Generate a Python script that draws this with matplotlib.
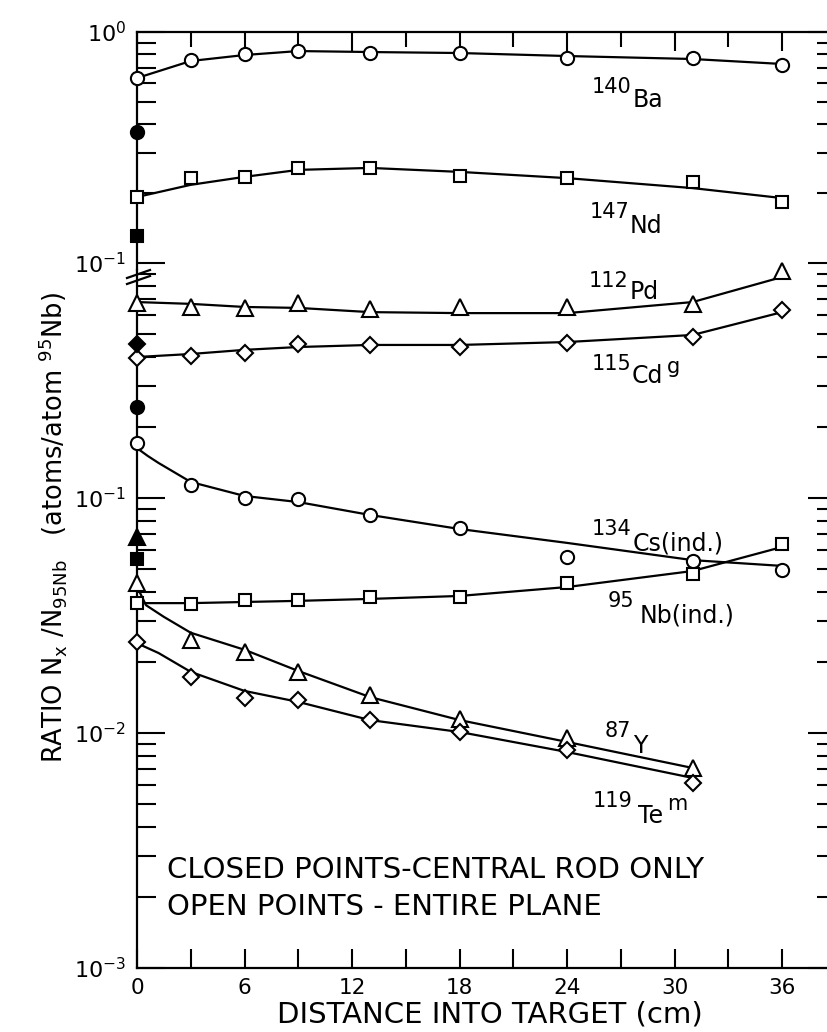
import matplotlib
matplotlib.use('Agg')
import matplotlib.pyplot as plt
from matplotlib.lines import Line2D
from matplotlib.ticker import MultipleLocator, NullFormatter, LogLocator

# measured points (distance into target, cm)
x_pts = [0, 3, 6, 9, 13, 18, 24, 31, 36]
x_pts_short = [0, 3, 6, 9, 13, 18, 24, 31]

# upper panel (10^-1 .. 10^0)
ba = [0.632, 0.756, 0.803, 0.827, 0.811, 0.811, 0.772, 0.772, 0.720]
nd = [0.193, 0.233, 0.236, 0.258, 0.258, 0.238, 0.233, 0.224, 0.184]
# lower panel
pd_ = [0.676, 0.650, 0.644, 0.676, 0.638, 0.650, 0.650, 0.670, 0.924]
cd = [0.394, 0.402, 0.414, 0.452, 0.448, 0.439, 0.457, 0.484, 0.631]
cs = [0.171, 0.1136, 0.100, 0.099, 0.0847, 0.0745, 0.0561, 0.054, 0.0494]
nb = [0.0357, 0.0354, 0.0367, 0.0367, 0.0379, 0.0379, 0.0435, 0.0475, 0.0637]
y87 = [0.0435, 0.0249, 0.0221, 0.0182, 0.0145, 0.01147, 0.00953, 0.0071]
te = [0.0244, 0.0173, 0.0141, 0.0138, 0.01135, 0.0101, 0.00847, 0.00612]

# closed points (central rod only), all at x = 0
ba_rod = 0.369
nd_rod = 0.131
cd_rod = 0.452
cs_rod = 0.244
y87_rod = 0.0683
nb_rod = 0.055

# hand-drawn curves
xc = [0, 3, 6, 9, 13, 18, 24, 31, 36]
ba_c = [0.632, 0.749, 0.795, 0.827, 0.819, 0.811, 0.787, 0.764, 0.727]
nd_c = [0.193, 0.218, 0.236, 0.253, 0.258, 0.248, 0.233, 0.211, 0.191]
pd_c = [0.682, 0.670, 0.650, 0.644, 0.618, 0.612, 0.612, 0.682, 0.872]
cd_c = [0.398, 0.410, 0.427, 0.439, 0.448, 0.448, 0.461, 0.494, 0.618]
nb_c = [0.0357, 0.0357, 0.0361, 0.0365, 0.0372, 0.0383, 0.0418, 0.0489, 0.0619]
xc_cs = [0, 0.6, 1.2, 3, 6, 9, 13, 18, 24, 31, 36]
cs_c = [0.163, 0.151, 0.141, 0.117, 0.102, 0.0961, 0.0847, 0.0738, 0.0644, 0.0544, 0.0514]
xc_y = [0, 0.5, 1.5, 3, 6, 9, 13, 18, 24, 31]
y87_c = [0.042, 0.0350, 0.0312, 0.0267, 0.0226, 0.01836, 0.01422, 0.01135, 0.00916, 0.0071]
xc_te = [0, 1.2, 3, 6, 9, 13, 18, 24, 31]
te_c = [0.0241, 0.0219, 0.0182, 0.0151, 0.01356, 0.01135, 0.0101, 0.0083, 0.00644]

W, H = 828, 1032
PT = 72 / 100  # points per pixel at dpi 100
def fx(px):
    return px / W
def fy(py):
    return 1 - py / H

fig = plt.figure(figsize=(W / 100, H / 100), dpi=100)

ax_top = fig.add_axes([fx(137), fy(270), 699 / W, (270 - 32) / H])
ax_bot = fig.add_axes([fx(137), fy(968), 699 / W, (968 - 270) / H])

ax_top.set_yscale('log')
ax_top.set_ylim(10 ** (-238 / 231), 1.0)
ax_bot.set_yscale('log')
ax_bot.set_ylim(1e-3, 10 ** (-1 + 228 / 235))

for ax in (ax_top, ax_bot):
    ax.set_xlim(0, 39)
    for s in ax.spines.values():
        s.set_linewidth(1.6)
    ax.xaxis.set_major_locator(MultipleLocator(6))
    ax.xaxis.set_minor_locator(MultipleLocator(3))
    ax.yaxis.set_major_locator(LogLocator(base=10))
    ax.yaxis.set_minor_locator(LogLocator(base=10, subs=range(2, 10)))
    ax.yaxis.set_minor_formatter(NullFormatter())
    ax.tick_params(axis='y', which='both', direction='in', left=True, right=True,
                   width=1.5, labelsize=16, pad=8)
    ax.tick_params(axis='y', which='major', length=28 * PT)
    ax.tick_params(axis='y', which='minor', length=19 * PT)
    ax.tick_params(axis='x', which='both', direction='in', width=1.5, length=19 * PT,
                   labelsize=15.5, pad=7)

ax_top.spines['bottom'].set_visible(False)
ax_bot.spines['top'].set_visible(False)
ax_top.tick_params(axis='x', which='both', bottom=False, top=True, labelbottom=False)
ax_top.tick_params(axis='x', which='minor', length=15 * PT)
ax_bot.tick_params(axis='x', which='both', bottom=True, top=False)

lw = 1.6
# curves
ax_top.plot(xc, ba_c, color='black', lw=lw, zorder=2)
ax_top.plot(xc, nd_c, color='black', lw=lw, zorder=2)
ax_bot.plot(xc, pd_c, color='black', lw=lw, zorder=2, clip_on=False)
ax_bot.plot(xc, cd_c, color='black', lw=lw, zorder=2)
ax_bot.plot(xc_cs, cs_c, color='black', lw=lw, zorder=2)
ax_bot.plot(xc, nb_c, color='black', lw=lw, zorder=2)
ax_bot.plot(xc_y, y87_c, color='black', lw=lw, zorder=2)
ax_bot.plot(xc_te, te_c, color='black', lw=lw, zorder=2)

def pts(ax, x, y, marker, ms, filled=False):
    ax.plot(x, y, ls='none', marker=marker, ms=ms, mfc='black' if filled else 'white',
            mec='black', mew=1.5, zorder=4, clip_on=False)

pts(ax_top, x_pts, ba, 'o', 9.5)
pts(ax_top, x_pts, nd, 's', 9)
pts(ax_bot, x_pts, pd_, '^', 11)
pts(ax_bot, x_pts, cd, 'D', 8.5)
pts(ax_bot, x_pts, cs, 'o', 9.5)
pts(ax_bot, x_pts, nb, 's', 9)
pts(ax_bot, x_pts_short, y87, '^', 11)
pts(ax_bot, x_pts_short, te, 'D', 8.5)

pts(ax_top, [0], [ba_rod], 'o', 9.5, True)
pts(ax_top, [0], [nd_rod], 's', 9, True)
pts(ax_bot, [0], [cd_rod], 'D', 8.5, True)
pts(ax_bot, [0], [cs_rod], 'o', 9.5, True)
pts(ax_bot, [0], [y87_rod], '^', 11, True)
pts(ax_bot, [0], [nb_rod], 's', 9, True)

# axis break marks on the left spine
for dy in (-3, 3):
    fig.add_artist(Line2D([fx(127), fx(150)], [fy(281 + dy), fy(273 + dy)],
                          color='black', lw=1.6, transform=fig.transFigure))

# isotope labels: (mass, right x, baseline, element, x, baseline, sup, x, baseline)
iso_labels = [
    ('140', 631, 93, 'Ba', 633, 107, None, 0, 0),
    ('147', 629, 218, 'Nd', 630, 233, None, 0, 0),
    ('112', 628, 287, 'Pd', 630, 299, None, 0, 0),
    ('115', 631, 370, 'Cd', 632, 383, 'g', 667, 373),
    ('134', 631, 535, 'Cs(ind.)', 633, 550, None, 0, 0),
    ('95', 634, 607, 'Nb(ind.)', 640, 622, None, 0, 0),
    ('87', 631, 737, 'Y', 633, 753, None, 0, 0),
    ('119', 633, 807, 'Te', 638, 823, 'm', 667, 810),
]
for mass, mx, my, el, ex, ey, sup, sx, sy in iso_labels:
    fig.text(fx(mx), fy(my), mass, fontsize=15, ha='right', va='baseline')
    fig.text(fx(ex), fy(ey), el, fontsize=17, ha='left', va='baseline')
    if sup:
        fig.text(fx(sx), fy(sy), sup, fontsize=15, ha='left', va='baseline')

fig.text(fx(167), fy(878), 'CLOSED POINTS-CENTRAL ROD ONLY', fontsize=21, ha='left', va='baseline')
fig.text(fx(167), fy(915), 'OPEN POINTS - ENTIRE PLANE', fontsize=21, ha='left', va='baseline')

fig.text(fx(490), fy(1023), 'DISTANCE INTO TARGET (cm)', fontsize=21, ha='center', va='baseline')
fig.text(fx(53), fy(528), r'RATIO N$_\mathrm{x}$ /N$_{95\mathrm{Nb}}$   (atoms/atom $^{95}$Nb)',
         fontsize=18.5, rotation=90, ha='center', va='center')

fig.savefig('out.png', dpi=100)
